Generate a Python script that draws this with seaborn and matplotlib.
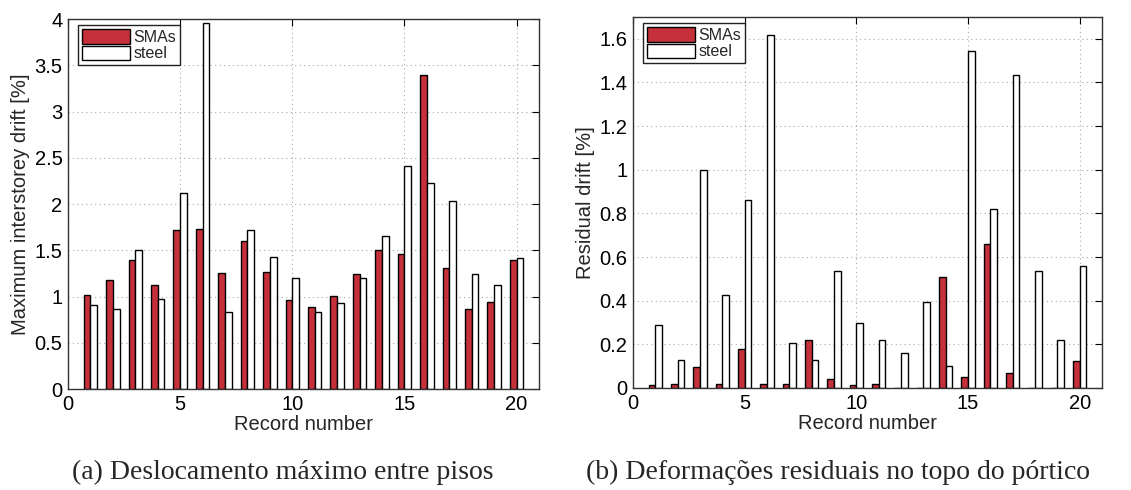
import numpy as np
import pandas as pd
import matplotlib
matplotlib.use("Agg")
import matplotlib.pyplot as plt
import seaborn as sns
from matplotlib.ticker import FuncFormatter, MultipleLocator

records = list(range(1, 21))
series_names = ["SMAs", "steel"]

max_drift_sma = [1.02, 1.18, 1.39, 1.12, 1.72, 1.73, 1.25, 1.60, 1.27, 0.96,
                 0.89, 1.01, 1.24, 1.50, 1.46, 3.39, 1.31, 0.87, 0.94, 1.39]
max_drift_steel = [0.91, 0.86, 1.50, 0.97, 2.12, 3.96, 0.83, 1.72, 1.43, 1.20,
                   0.83, 0.93, 1.20, 1.65, 2.41, 2.23, 2.03, 1.24, 1.12, 1.42]

res_drift_sma = [0.012, 0.018, 0.095, 0.018, 0.18, 0.018, 0.018, 0.22, 0.041, 0.012,
                 0.018, 0.0, 0.0, 0.508, 0.052, 0.658, 0.07, 0.0, 0.0, 0.124]
res_drift_steel = [0.29, 0.128, 0.998, 0.427, 0.86, 1.617, 0.208, 0.128, 0.537, 0.30,
                   0.22, 0.162, 0.392, 0.099, 1.545, 0.818, 1.435, 0.537, 0.22, 0.56]

captions = ["(a) Deslocamento máximo entre pisos",
            "(b) Deformações residuais no topo do pórtico"]

sns.set_style("white")
plt.rcParams['font.family'] = ['Liberation Sans', 'DejaVu Sans']

red = "#c5303a"
palette = {"SMAs": red, "steel": "white"}


def make_df(a, b):
    return pd.DataFrame({
        "record": records * 2,
        "value": list(a) + list(b),
        "material": [series_names[0]] * len(a) + [series_names[1]] * len(b),
    })


fig = plt.figure(figsize=(11.31, 4.9), dpi=100)
ax1 = fig.add_axes([0.0601, 0.2061, 0.4165, 0.7551])
ax2 = fig.add_axes([0.5597, 0.2082, 0.4147, 0.7571])

specs = [
    (ax1, make_df(max_drift_sma, max_drift_steel), "Maximum interstorey drift [%]", 4.0, 0.5),
    (ax2, make_df(res_drift_sma, res_drift_steel), "Residual drift [%]", 1.7, 0.2),
]

for ax, df, ylabel, ymax, ystep in specs:
    sns.barplot(data=df, x="record", y="value", hue="material", native_scale=True,
                width=0.6, palette=palette, edgecolor="black", linewidth=1.0,
                ax=ax, errorbar=None, saturation=1)
    ax.set_xlim(0, 21)
    ax.set_ylim(0, ymax)
    ax.xaxis.set_major_locator(MultipleLocator(5))
    ax.yaxis.set_major_locator(MultipleLocator(ystep))
    fmt = FuncFormatter(lambda v, p: ("%g" % round(v, 4)))
    ax.xaxis.set_major_formatter(fmt)
    ax.yaxis.set_major_formatter(fmt)
    ax.grid(True, linestyle=(0, (1, 3)), color="#aaaaaa", linewidth=0.8)
    ax.set_axisbelow(True)
    ax.tick_params(direction="in", top=True, right=True, length=5, width=0.8,
                   labelsize=14.5, colors="black", pad=4)
    for s in ax.spines.values():
        s.set_visible(True)
        s.set_color("#333333")
        s.set_linewidth(1.0)
    ax.set_xlabel("Record number", fontsize=14.5, labelpad=1)
    ax.set_ylabel(ylabel, fontsize=14.5, labelpad=3)
    handles, labels = ax.get_legend_handles_labels()
    ax.legend(handles, labels, loc="upper left", bbox_to_anchor=(0.022, 0.983),
              fontsize=11.5, frameon=True, fancybox=False, edgecolor="#222222",
              framealpha=1, handlelength=3.0, handleheight=1.0, handletextpad=0.2,
              borderpad=0.25, labelspacing=0.05, borderaxespad=0)
    ax.get_legend().get_frame().set_linewidth(1.0)

fig.text(0.25, 0.035, captions[0], fontsize=20, family=['Liberation Serif'],
         ha="center", va="center")
fig.text(0.741, 0.035, captions[1], fontsize=20, family=['Liberation Serif'],
         ha="center", va="center")

fig.savefig("out.png", dpi=100, facecolor="white")
